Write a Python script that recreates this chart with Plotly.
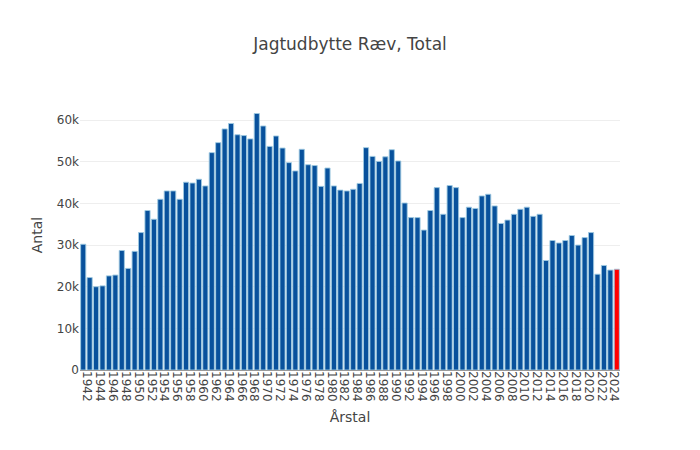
import plotly.graph_objects as go

years = list(range(1942, 2026))
values = [
    30200, 22200, 20000, 20200, 22600, 22800, 28700, 24400, 28500, 33000,
    38300, 36200, 41000, 43000, 43000, 41000, 45100, 44900, 45800, 44200,
    52200, 54600, 57900, 59200, 56500, 56300, 55500, 61600, 58600, 53700,
    56200, 53300, 49800, 47800, 53000, 49300, 49100, 44100, 48500, 44200,
    43200, 43000, 43400, 44800, 53400, 51300, 50100, 51200, 52900, 50200,
    40100, 36600, 36600, 33600, 38300, 43800, 37400, 44300, 43800, 36600,
    39100, 38800, 41800, 42200, 39400, 35200, 36000, 37400, 38600, 39100,
    36900, 37400, 26300, 31100, 30500, 31100, 32300, 30000, 31800, 33000,
    23000, 25100, 24000, 24200,
]
highlight_year = 2025

bar_colors = ["red" if y == highlight_year else "#08519c" for y in years]

fig = go.Figure(
    go.Bar(
        x=years,
        y=values,
        marker=dict(
            color=bar_colors,
            line=dict(color="rgba(158,202,225,0.9)", width=1),
        ),
    )
)

fig.update_layout(
    template="none",
    width=700,
    height=450,
    title=dict(text="Jagtudbytte Ræv, Total", x=0.5),
    font=dict(family="DejaVu Sans", color="#444"),
    margin=dict(l=80, r=80, t=100, b=80),
    xaxis=dict(
        title=dict(text="Årstal"),
        tick0=1942,
        dtick=2,
        tickangle=90,
        ticklabelshift=4,
        showgrid=False,
        zeroline=False,
        showline=False,
        ticks="",
    ),
    yaxis=dict(
        title=dict(text="Antal"),
        gridcolor="#eee",
        zeroline=True,
        zerolinecolor="#999",
        ticks="",
    ),
    showlegend=False,
)

fig.write_html(
    "out.html",
    config={"displayModeBar": False},
    post_script="document.body.style.margin='0';document.body.style.overflow='hidden';",
)
